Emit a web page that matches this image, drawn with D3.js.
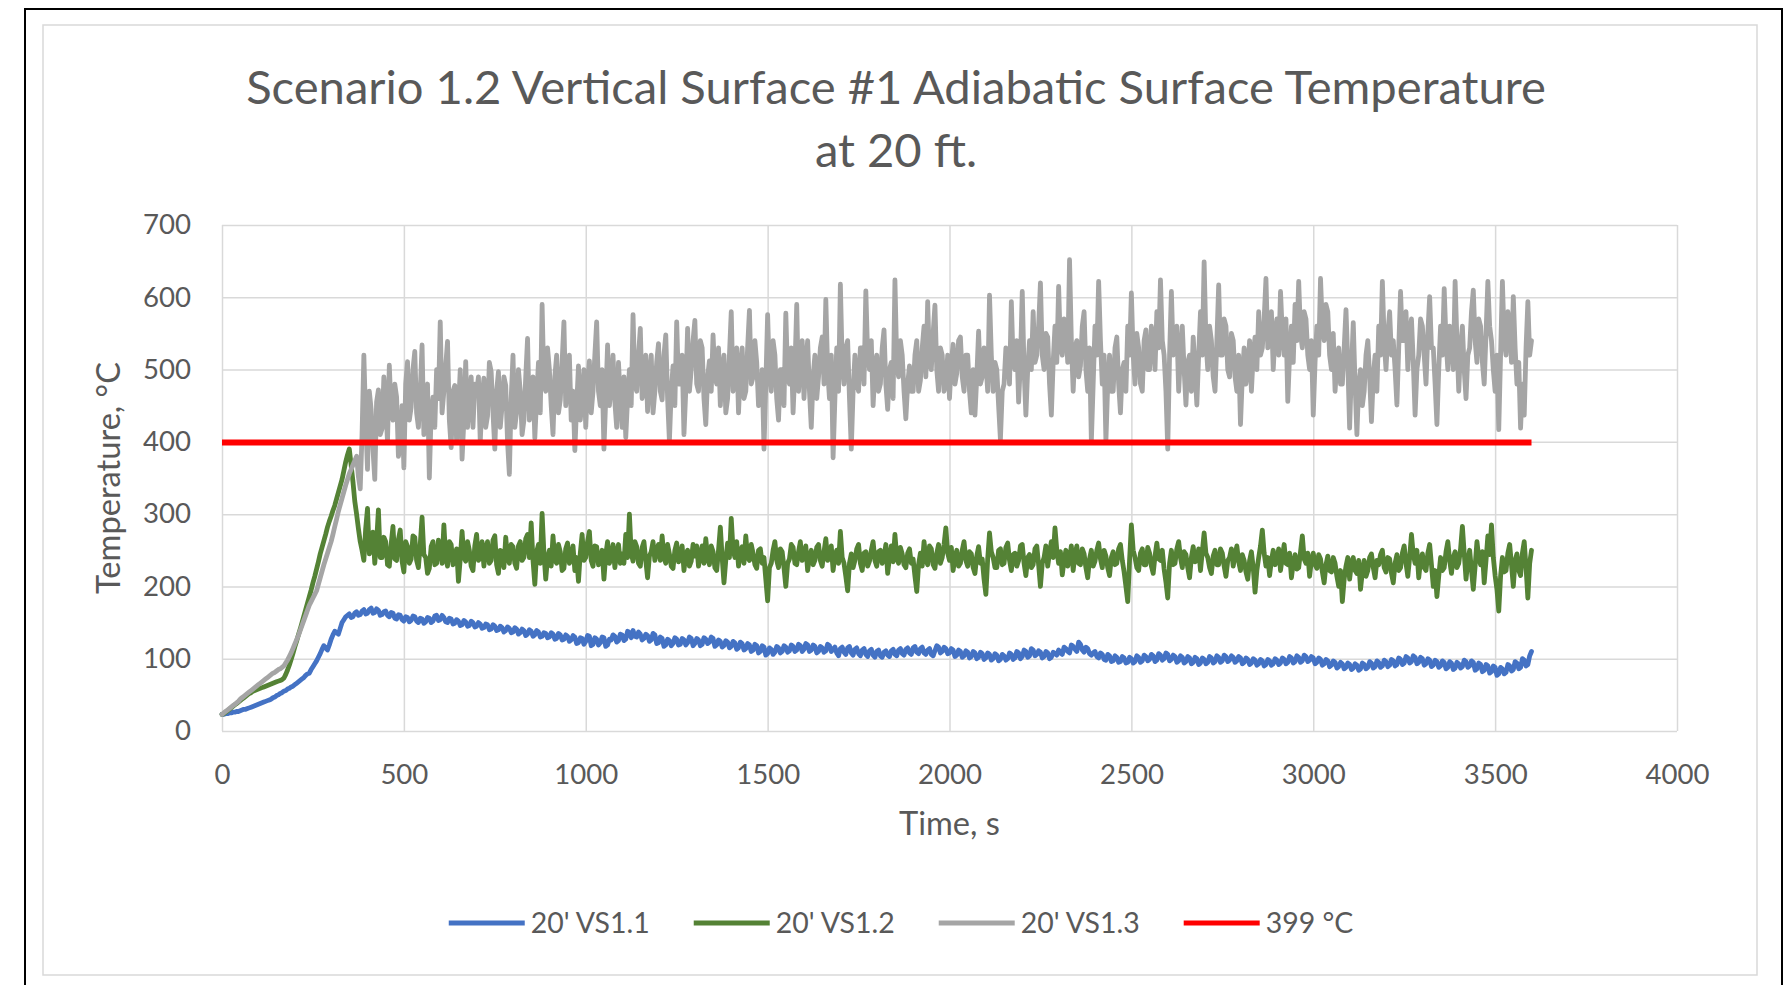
<!DOCTYPE html>
<html>
<head>
<meta charset="utf-8">
<script src="https://cdn.jsdelivr.net/npm/d3@7"></script>
<style>
  html, body { margin: 0; padding: 0; background: #ffffff; }
  svg { display: block; }
</style>
</head>
<body>
<script>
// ---------------- DATA ----------------
const titleLines = ["Scenario 1.2 Vertical Surface #1 Adiabatic Surface Temperature", "at 20 ft."];
const xTicks = [0, 500, 1000, 1500, 2000, 2500, 3000, 3500, 4000];
const yTicks = [0, 100, 200, 300, 400, 500, 600, 700];
const xAxisTitle = "Time, s";
const yAxisTitle = "Temperature, °C";
const seriesNames = ["20' VS1.1", "20' VS1.2", "20' VS1.3", "399 °C"];
const timeStep = 5; // seconds between samples, series start at t = 0

// 20' VS1.1 (one row = 100 s)
const vs11 = [
  23,23,24,24,25,25,26,26,27,27,28,29,30,30,31,32,33,34,35,36,
  37,38,39,40,41,42,43,44,46,47,49,50,52,53,55,56,58,59,61,62,
  64,66,68,70,72,74,77,79,80,85,89,93,97,102,107,113,118,115,112,119,
  127,133,138,136,134,142,150,154,158,160,162,157,158,163,165,160,161,166,168,162,
  163,168,170,163,164,169,167,160,161,165,166,160,158,164,163,156,155,161,160,154,
  152,158,157,151,153,159,158,152,150,156,155,149,151,157,156,150,152,159,160,153,
  154,160,157,151,150,156,155,148,149,154,152,146,147,153,151,145,146,152,150,144,
  145,150,148,142,143,148,147,140,141,147,145,139,140,145,143,137,139,144,142,136,
  137,143,141,134,136,141,139,132,134,140,138,131,133,139,137,130,131,136,135,129,
  130,136,134,127,128,135,133,126,127,133,131,124,126,132,130,121,122,129,128,120,
  124,132,131,118,120,129,127,119,122,130,129,117,119,127,126,133,131,123,125,134,
  133,125,127,138,136,129,139,131,130,137,134,126,128,134,132,124,126,135,133,121,
  122,130,128,117,119,127,125,118,121,129,127,119,120,128,126,119,122,130,128,118,
  121,128,126,118,120,129,127,121,123,130,128,117,119,126,124,116,118,125,123,115,
  117,124,122,113,115,123,121,112,114,121,119,110,112,120,118,108,110,118,116,105,
  107,115,113,106,109,117,115,108,110,118,116,109,111,119,117,110,112,120,118,110,
  113,121,119,110,112,119,117,108,110,117,115,109,111,120,118,110,113,116,108,104,
  114,116,109,106,115,117,108,105,113,115,107,104,112,114,106,103,111,113,105,102,
  110,112,104,102,109,111,105,103,111,113,106,104,112,114,107,105,113,115,108,106,
  115,117,109,107,114,116,108,106,112,114,106,104,111,118,116,108,110,116,114,107,
  108,114,112,103,105,112,110,102,104,111,109,101,103,110,108,100,102,109,107,99,
  101,108,106,98,100,107,105,97,99,106,104,98,100,108,106,99,101,110,108,100,
  103,112,110,102,104,114,112,104,106,111,109,101,103,110,108,100,102,109,107,105,
  112,108,106,116,114,110,108,119,117,113,110,123,120,112,109,116,114,107,105,108,
  110,103,101,108,106,99,98,106,104,96,97,104,102,95,96,103,101,94,95,102,
  100,94,96,104,102,95,97,105,103,97,99,106,104,96,98,107,105,98,100,108,
  106,97,99,105,103,95,97,104,102,94,96,103,101,93,95,102,100,92,94,101,
  99,93,95,103,101,94,96,104,102,95,97,105,103,96,98,104,102,95,97,103,
  101,93,95,101,99,92,94,100,98,91,93,99,97,90,92,99,97,91,93,100,
  98,92,94,101,99,93,95,103,101,94,96,104,102,95,97,105,103,96,98,103,
  101,93,95,101,99,91,93,99,97,89,91,97,95,87,89,95,93,86,88,94,
  92,85,87,93,91,84,86,94,92,86,88,96,94,87,89,97,95,88,90,98,
  96,89,91,99,97,90,92,101,99,92,94,103,101,94,96,104,102,93,95,102,
  100,91,93,100,98,89,91,98,96,88,90,97,95,86,88,96,94,85,87,95,
  93,87,89,98,96,88,90,97,95,84,86,94,92,82,84,92,90,80,82,90,
  88,77,79,88,86,79,81,92,90,83,85,96,94,86,88,100,98,90,92,104,
  110
];

// 20' VS1.2
const vs12 = [
  23,24,26,28,30,32,34,36,38,40,42,44,46,48,50,52,53,55,56,57,
  58,59,60,61,62,63,64,65,66,67,68,69,70,71,73,78,84,91,99,107,
  116,124,133,141,150,159,168,177,186,195,205,214,224,234,245,254,263,272,282,290,
  297,305,312,321,330,339,348,360,372,382,390,368,345,318,300,280,262,250,236,280,
  308,245,250,275,232,262,306,240,240,268,262,230,228,258,283,238,236,265,278,235,
  220,262,255,232,238,270,268,236,226,258,296,244,240,218,225,255,262,230,232,264,
  250,232,285,240,228,262,258,230,240,252,207,238,276,240,235,262,250,228,222,256,
  272,236,240,262,228,252,262,232,236,264,270,230,218,250,248,226,268,240,232,258,
  255,232,225,256,262,236,240,266,272,240,288,236,203,248,258,232,301,246,210,240,
  250,228,270,236,232,258,248,222,225,252,260,232,238,256,222,240,207,246,272,236,
  240,262,276,236,228,256,255,230,236,250,210,244,262,232,240,258,226,246,258,232,
  245,232,272,240,300,246,235,262,255,232,228,254,262,236,212,242,248,262,236,250,
  258,236,270,240,232,258,245,228,225,250,260,234,238,256,222,244,250,228,235,258,
  242,256,228,244,256,232,266,240,230,256,248,226,222,250,282,240,205,236,260,240,
  294,250,240,262,228,248,255,232,270,240,236,258,246,230,225,250,252,232,240,210,
  180,226,232,250,262,236,226,252,248,226,200,232,238,258,254,232,230,248,262,236,
  240,256,222,240,250,230,236,254,258,236,228,248,266,236,240,256,222,242,250,232,
  276,240,232,214,194,232,245,226,236,252,258,232,222,246,248,228,235,250,262,236,
  228,248,250,232,240,258,218,240,256,234,272,240,232,254,245,230,226,246,252,232,
  238,214,193,230,246,228,262,238,230,256,252,230,225,246,258,232,240,258,281,246,
  236,254,222,240,250,228,232,250,262,236,228,248,245,226,218,242,255,232,238,210,
  189,238,274,248,240,226,226,250,252,230,232,254,260,236,222,244,246,228,236,256,
  258,232,215,240,244,226,230,252,256,230,200,232,240,256,228,246,262,240,281,250,
  232,248,216,236,250,228,238,256,222,244,256,232,230,252,245,226,212,238,250,228,
  235,250,260,238,226,250,242,226,215,240,248,230,232,252,258,236,220,200,179,236,
  285,250,240,226,222,246,252,230,230,254,246,228,218,242,260,238,236,250,224,206,
  184,232,250,230,232,252,262,240,226,248,244,226,212,240,255,234,236,252,222,248,
  274,246,240,226,218,242,250,230,230,252,246,228,214,236,240,252,228,244,256,234,
  222,244,236,220,210,236,248,226,192,222,240,256,278,246,228,240,215,236,250,230,
  236,252,222,240,258,232,230,246,212,232,244,224,226,248,270,238,232,246,214,236,
  246,230,225,244,238,220,205,230,242,222,220,240,232,214,200,222,179,210,228,240,
  210,232,240,222,218,236,196,220,236,214,222,240,245,226,212,236,230,244,250,226,
  220,240,238,218,205,232,244,222,226,246,256,232,214,240,272,244,232,250,212,236,
  245,226,222,246,258,230,200,222,186,214,240,222,226,248,262,236,218,240,248,226,
  232,252,283,246,210,236,250,222,196,228,262,240,230,248,205,236,270,244,285,240,
  215,196,166,214,240,220,222,246,258,230,200,236,245,222,215,246,262,226,184,232,
  250
];

// 20' VS1.3
const vs13 = [
  23,25,27,29,31,33,35,37,39,41,44,46,48,50,52,54,56,58,60,62,
  64,66,68,70,72,74,76,78,80,81,83,85,86,88,90,94,98,103,108,114,
  120,126,132,139,146,153,160,167,174,179,184,189,194,203,212,221,230,238,246,254,
  262,272,283,293,304,313,322,331,340,348,356,362,368,374,380,352,335,410,520,430,
  362,470,445,390,348,455,472,410,418,490,455,400,506,440,430,480,462,380,395,450,
  364,480,511,430,448,500,525,440,420,470,534,410,440,480,350,440,462,420,500,460,
  566,440,470,505,539,430,392,470,478,400,445,500,376,430,511,420,455,490,420,480,
  468,490,400,460,488,420,436,510,497,440,390,470,497,420,450,490,478,400,355,460,
  520,420,442,500,470,410,430,490,543,430,452,490,405,460,510,440,590,480,470,530,
  500,450,410,490,520,440,458,510,566,450,480,520,430,470,388,450,505,430,460,500,
  420,480,512,440,470,520,566,470,450,500,390,460,534,450,480,520,455,420,510,460,
  420,490,406,460,500,450,576,480,470,520,557,460,480,520,442,490,520,440,470,510,
  536,470,458,520,548,460,401,470,505,450,566,480,480,520,410,470,557,470,500,540,
  568,480,470,540,530,460,424,490,512,470,548,490,480,530,450,500,520,440,460,520,
  580,470,495,530,440,500,530,460,470,530,582,480,490,540,510,450,455,500,390,480,
  576,490,470,540,520,460,430,500,500,450,578,490,480,530,440,500,590,470,510,540,
  460,510,540,470,420,490,520,460,490,530,545,480,597,500,460,520,378,460,530,470,
  618,510,480,530,540,460,390,470,520,480,470,530,530,480,609,520,500,540,450,500,
  520,470,480,530,555,480,445,500,510,460,624,510,490,540,520,470,432,480,505,470,
  470,520,540,470,485,530,560,490,594,510,500,550,589,500,470,530,520,470,480,520,
  460,510,535,480,495,540,545,490,470,520,520,470,440,500,437,490,553,480,490,530,
  510,470,603,520,470,510,500,450,403,470,480,530,520,480,594,510,500,540,455,510,
  608,500,437,500,540,500,580,510,520,560,620,520,500,550,545,480,437,510,560,510,
  615,530,520,570,560,510,652,540,470,530,540,490,505,560,580,500,470,530,401,480,
  560,520,622,540,480,520,401,480,520,470,470,530,545,480,440,500,510,470,560,520,
  606,520,480,550,530,480,470,540,555,500,500,560,540,500,580,530,624,540,520,470,
  390,520,608,520,530,560,470,520,560,500,451,510,520,470,545,500,451,520,580,520,
  649,540,500,560,540,490,470,540,617,520,520,570,560,500,490,550,540,490,470,520,
  424,490,530,480,500,540,470,520,545,500,580,520,530,570,626,530,540,580,500,550,
  570,520,608,550,520,570,456,520,560,510,590,540,622,550,530,580,570,520,500,540,
  437,510,560,520,626,560,540,590,580,520,500,550,470,510,530,480,480,530,583,510,
  419,500,565,480,410,480,500,450,470,520,540,490,428,490,520,470,560,520,622,540,
  500,550,580,520,540,500,451,530,608,540,540,580,500,550,570,510,437,500,520,570,
  560,520,480,550,601,530,530,480,424,500,560,520,612,540,500,560,540,500,622,540,
  470,530,560,500,460,520,530,580,610,540,510,570,560,510,480,550,622,560,540,500,
  470,520,417,520,622,540,520,580,560,510,601,530,480,510,419,480,437,530,594,520,
  540
];

// 399 °C limit line
const limitTimes = [0, 3600];
const limitValues = [399, 399];

// ---------------- CHART ----------------
const W = 1786, H = 985;
const FONT = "Lato, 'Open Sans', 'DejaVu Sans', sans-serif";
const TEXT = "#595959";

const svg = d3.select("body").append("svg")
  .attr("width", W).attr("height", H)
  .attr("font-family", FONT);

svg.append("rect").attr("width", W).attr("height", H).attr("fill", "#ffffff");

function fitSize(txt, target) {
  const t = svg.append("text").attr("font-family", FONT).attr("font-size", 100).text(txt);
  const w = t.node().getComputedTextLength();
  t.remove();
  return 100 * target / w;
}

// outer black frame and chart area
svg.append("rect").attr("x", 25).attr("y", 9).attr("width", 1757).attr("height", 1010)
  .attr("fill", "none").attr("stroke", "#000").attr("stroke-width", 2);
svg.append("rect").attr("x", 43).attr("y", 25).attr("width", 1714).attr("height", 950)
  .attr("fill", "#fff").attr("stroke", "#d9d9d9").attr("stroke-width", 1.5);

const plot = { left: 222, right: 1677, top: 225, bottom: 731 };
const x = d3.scaleLinear().domain([0, 4000]).range([plot.left, plot.right]);
const y = d3.scaleLinear().domain([0, 700]).range([plot.bottom, plot.top]);

const tickSize = fitSize("700", 48);
const legendSize = fitSize(seriesNames[0], 119);
const axisTitleSize = fitSize(xAxisTitle, 101);
const titleSize = fitSize(titleLines[0], 1300);

// gridlines
svg.append("g")
  .attr("transform", `translate(0,${plot.bottom})`)
  .call(d3.axisBottom(x).tickValues(xTicks).tickSize(-(plot.bottom - plot.top)).tickFormat(""))
  .call(g => g.select(".domain").remove())
  .selectAll("line").attr("stroke", "#d9d9d9").attr("stroke-width", 1.5);
svg.append("g")
  .attr("transform", `translate(${plot.left},0)`)
  .call(d3.axisLeft(y).tickValues(yTicks).tickSize(-(plot.right - plot.left)).tickFormat(""))
  .call(g => g.select(".domain").remove())
  .selectAll("line").attr("stroke", "#d9d9d9").attr("stroke-width", 1.5);

// tick labels
const xAx = svg.append("g")
  .attr("transform", `translate(0,${plot.bottom})`)
  .call(d3.axisBottom(x).tickValues(xTicks).tickSize(0).tickPadding(33).tickFormat(d3.format("d")));
xAx.select(".domain").remove();
xAx.selectAll("text").attr("font-family", FONT).attr("font-size", tickSize).attr("fill", TEXT);

const yAx = svg.append("g")
  .attr("transform", `translate(${plot.left},0)`)
  .call(d3.axisLeft(y).tickValues(yTicks).tickSize(0).tickPadding(31).tickFormat(d3.format("d")));
yAx.select(".domain").remove();
yAx.selectAll("text").attr("font-family", FONT).attr("font-size", tickSize).attr("fill", TEXT);

// axis titles
svg.append("text")
  .attr("x", (plot.left + plot.right) / 2).attr("y", 835)
  .attr("text-anchor", "middle").attr("font-size", axisTitleSize).attr("fill", TEXT)
  .text(xAxisTitle);
svg.append("text")
  .attr("transform", `translate(120,${(plot.top + plot.bottom) / 2}) rotate(-90)`)
  .attr("text-anchor", "middle").attr("font-size", axisTitleSize).attr("fill", TEXT)
  .text(yAxisTitle);

// title
svg.append("text")
  .attr("x", 896).attr("y", 104)
  .attr("text-anchor", "middle").attr("font-size", titleSize).attr("fill", TEXT)
  .text(titleLines[0]);
svg.append("text")
  .attr("x", 896).attr("y", 167)
  .attr("text-anchor", "middle").attr("font-size", titleSize).attr("fill", TEXT)
  .text(titleLines[1]);

// series
const colors = ["#4472C4", "#548235", "#A5A5A5", "#FF0000"];
const seriesData = [vs11, vs12, vs13];
const line = d3.line()
  .x((d, i) => x(i * timeStep))
  .y(d => y(d));

const gPlot = svg.append("g");
seriesData.forEach((s, k) => {
  gPlot.append("path")
    .datum(s)
    .attr("d", line)
    .attr("fill", "none")
    .attr("stroke", colors[k])
    .attr("stroke-width", 4.8)
    .attr("stroke-linejoin", "round")
    .attr("stroke-linecap", "round");
});

const limitLine = d3.line()
  .x((d, i) => x(limitTimes[i]))
  .y(d => y(d));
gPlot.append("path")
  .datum(limitValues)
  .attr("d", limitLine)
  .attr("fill", "none")
  .attr("stroke", colors[3])
  .attr("stroke-width", 6);

// legend
const legLine = 76, legGap = 6, itemGap = 44, legY = 923;
const legG = svg.append("g");
const items = seriesNames.map((name, k) => {
  const g = legG.append("g");
  g.append("line").attr("x1", 0).attr("x2", legLine).attr("y1", legY).attr("y2", legY)
    .attr("stroke", colors[k]).attr("stroke-width", 5);
  const t = g.append("text").attr("x", legLine + legGap).attr("y", legY + 10)
    .attr("font-size", legendSize).attr("fill", TEXT).text(name);
  return { g, w: legLine + legGap + t.node().getComputedTextLength() };
});
const totalW = d3.sum(items, d => d.w) + itemGap * (items.length - 1);
let cx = 901 - totalW / 2;
items.forEach(it => {
  it.g.attr("transform", `translate(${cx},0)`);
  cx += it.w + itemGap;
});
</script>
</body>
</html>
